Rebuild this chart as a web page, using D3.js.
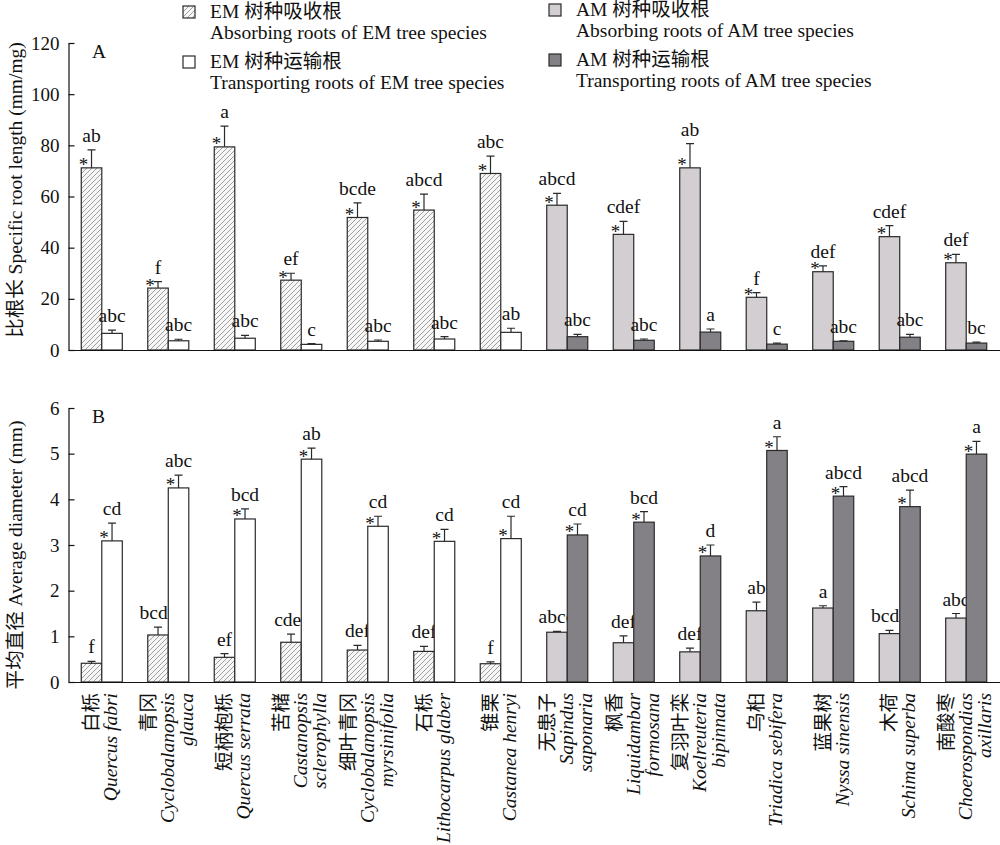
<!DOCTYPE html>
<html>
<head>
<meta charset="utf-8">
<script src="https://cdn.jsdelivr.net/npm/d3@7"></script>
<style>
  body { margin: 0; background: #fff; }
  svg text { font-family: "Liberation Serif", "Times New Roman", "Noto Sans CJK SC", serif; fill: #111; }
</style>
</head>
<body>
<svg id="chart" width="1000" height="845"></svg>
<script>
// species (Chinese name + latin name lines)
const speciesCn = ['白栎', '青冈', '短柄枹栎', '苦槠', '细叶青冈', '石栎', '锥栗',
                   '无患子', '枫香', '复羽叶栾', '乌桕', '蓝果树', '木荷', '南酸枣'];
const speciesLatin = [['Quercus fabri'], ['Cyclobalanopsis', 'glauca'], ['Quercus serrata'],
                      ['Castanopsis', 'sclerophylla'], ['Cyclobalanopsis', 'myrsinifolia'],
                      ['Lithocarpus glaber'], ['Castanea henryi'], ['Sapindus', 'saponaria'],
                      ['Liquidambar', 'formosana'], ['Koelreuteria', 'bipinnata'],
                      ['Triadica sebifera'], ['Nyssa sinensis'], ['Schima superba'],
                      ['Choerospondias', 'axillaris']];
const mycType = ['EM', 'EM', 'EM', 'EM', 'EM', 'EM', 'EM', 'AM', 'AM', 'AM', 'AM', 'AM', 'AM', 'AM'];

// A: specific root length (mm/mg)
const srlAbs    = [71.2, 24.2, 79.4, 27.3, 51.8, 54.7, 69.0, 56.6, 45.2, 71.2, 20.6, 30.6, 44.3, 34.1];
const srlAbsSe  = [7.0, 2.5, 8.1, 2.7, 5.7, 6.2, 6.8, 4.6, 5.1, 9.5, 1.8, 2.3, 4.3, 3.3];
const srlAbsLet = ['ab', 'f', 'a', 'ef', 'bcde', 'abcd', 'abc', 'abcd', 'cdef', 'ab', 'f', 'def', 'cdef', 'def'];
const srlTr     = [6.5, 3.6, 4.6, 2.2, 3.4, 4.3, 6.9, 5.2, 3.8, 7.0, 2.3, 3.4, 5.0, 2.7];
const srlTrSe   = [1.3, 0.6, 1.1, 0.3, 0.5, 0.9, 1.6, 0.9, 0.5, 1.2, 0.4, 0.2, 1.1, 0.4];
const srlTrLet  = ['abc', 'abc', 'abc', 'c', 'abc', 'abc', 'ab', 'abc', 'abc', 'a', 'c', 'abc', 'abc', 'bc'];

// B: average diameter (mm)
const diaAbs    = [0.41, 1.03, 0.54, 0.87, 0.70, 0.67, 0.40, 1.09, 0.86, 0.66, 1.56, 1.62, 1.06, 1.40];
const diaAbsSe  = [0.04, 0.17, 0.08, 0.18, 0.10, 0.11, 0.04, 0.02, 0.15, 0.08, 0.19, 0.05, 0.07, 0.10];
const diaAbsLet = ['f', 'bcde', 'ef', 'cdef', 'def', 'def', 'f', 'abcd', 'def', 'def', 'ab', 'a', 'bcde', 'abc'];
const diaTr     = [3.09, 4.25, 3.57, 4.88, 3.41, 3.08, 3.14, 3.22, 3.50, 2.76, 5.07, 4.07, 3.84, 4.99];
const diaTrSe   = [0.39, 0.28, 0.22, 0.24, 0.22, 0.26, 0.49, 0.24, 0.23, 0.24, 0.30, 0.21, 0.36, 0.28];
const diaTrLet  = ['cd', 'abc', 'bcd', 'ab', 'cd', 'cd', 'cd', 'cd', 'bcd', 'd', 'a', 'abcd', 'abcd', 'a'];

const yTicksA = [0, 20, 40, 60, 80, 100, 120];
const yTicksB = [0, 1, 2, 3, 4, 5, 6];

const svg = d3.select('#chart');

// hatch for EM absorbing roots
const defs = svg.append('defs');
const pat = defs.append('pattern')
    .attr('id', 'hatch').attr('patternUnits', 'userSpaceOnUse')
    .attr('width', 5).attr('height', 5);
pat.append('rect').attr('width', 5).attr('height', 5).attr('fill', '#f6f6f6');
pat.append('path').attr('d', 'M0,5 L5,0 M-1,1 L1,-1 M4,6 L6,4')
    .attr('stroke', '#8a8a8a').attr('stroke-width', 0.8);

const fills = {
    EM: ['url(#hatch)', '#ffffff'],
    AM: ['#d2ced2', '#848186']
};

const idx = d3.range(speciesCn.length);
const x = d3.scaleBand().domain(idx).range([68.5, 999.5])
    .paddingInner(0.383).paddingOuter(0.192);
const xSub = d3.scaleBand().domain([0, 1]).range([0, x.bandwidth()]);

function panel(opts) {
    const y = d3.scaleLinear().domain([0, opts.max]).range([opts.bottom, opts.top]);
    const g = svg.append('g');

    const series = [
        {vals: opts.abs, se: opts.absSe, lets: opts.absLet, k: 0},
        {vals: opts.tr, se: opts.trSe, lets: opts.trLet, k: 1}
    ];

    series.forEach(s => {
        const bars = g.selectAll(null).data(idx).enter().append('g');
        const bx = i => x(i) + xSub(s.k);
        const cx = i => bx(i) + xSub.bandwidth() / 2;
        bars.append('rect')
            .attr('x', bx)
            .attr('y', i => y(s.vals[i]))
            .attr('width', xSub.bandwidth())
            .attr('height', i => y(0) - y(s.vals[i]))
            .attr('fill', i => fills[mycType[i]][s.k])
            .attr('stroke', '#2a2a2a').attr('stroke-width', 1.2);
        bars.append('path')
            .attr('d', i => {
                const c = cx(i), t = y(s.vals[i] + s.se[i]);
                return `M${c},${y(s.vals[i])}V${t}M${c - 4},${t}H${c + 4}`;
            })
            .attr('stroke', '#2a2a2a').attr('stroke-width', 1.2).attr('fill', 'none');
        bars.append('text')
            .attr('x', cx)
            .attr('y', i => y(s.vals[i] + s.se[i]) - 8)
            .attr('text-anchor', 'middle')
            .attr('font-size', 19.5)
            .text(i => s.lets[i]);
        if (s.k === opts.starSeries) {
            bars.append('text')
                .attr('x', i => cx(i) - 8)
                .attr('y', i => y(s.vals[i]) + 3.5)
                .attr('text-anchor', 'middle')
                .attr('font-size', 19)
                .text('*');
        }
    });

    const ay = g.append('g').attr('transform', 'translate(68.5,0)')
        .call(d3.axisLeft(y).tickValues(opts.ticks).tickFormat(d3.format('d'))
            .tickSize(-6).tickSizeOuter(0).tickPadding(9));
    ay.selectAll('text').attr('font-size', 19).attr('font-family', '"Liberation Serif", serif').attr('fill', '#111');
    ay.selectAll('line, path').attr('stroke', '#111').attr('stroke-width', 1.2);

    const ax = g.append('g').attr('transform', `translate(0,${opts.bottom})`)
        .call(d3.axisBottom(x).tickValues([]).tickSizeOuter(0));
    ax.select('path').attr('stroke', '#111').attr('stroke-width', 1.2);

    g.append('text').attr('x', 92).attr('y', opts.top + 15)
        .attr('font-size', 19.5).text(opts.letter);

    g.append('text')
        .attr('transform', `translate(22,${opts.titleY}) rotate(-90)`)
        .attr('text-anchor', 'middle').attr('font-size', 19.5)
        .text(opts.title);
}

panel({
    top: 43, bottom: 350, max: 120, ticks: yTicksA, letter: 'A',
    abs: srlAbs, absSe: srlAbsSe, absLet: srlAbsLet,
    tr: srlTr, trSe: srlTrSe, trLet: srlTrLet, starSeries: 0,
    title: '比根长 Specific root length (mm/mg)', titleY: 190
});

panel({
    top: 408, bottom: 682, max: 6, ticks: yTicksB, letter: 'B',
    abs: diaAbs, absSe: diaAbsSe, absLet: diaAbsLet,
    tr: diaTr, trSe: diaTrSe, trLet: diaTrLet, starSeries: 1,
    title: '平均直径 Average diameter (mm)', titleY: 555
});

// species labels under panel B
idx.forEach(i => {
    const lines = [{t: speciesCn[i], it: false}].concat(speciesLatin[i].map(t => ({t, it: true})));
    const c = x(i) + x.bandwidth() / 2;
    const n = lines.length;
    lines.forEach((ln, j) => {
        const bx = c + (j - (n - 1) / 2) * 19 + 6;
        svg.append('text')
            .attr('transform', `translate(${bx},693) rotate(-90)`)
            .attr('text-anchor', 'end')
            .attr('font-size', 19.5)
            .attr('font-style', ln.it ? 'italic' : 'normal')
            .text(ln.t);
    });
});

// legend
const legend = [
    {x: 183, y: 18, fill: fills.EM[0], cn: 'EM 树种吸收根', en: 'Absorbing roots of EM tree species'},
    {x: 183, y: 68, fill: fills.EM[1], cn: 'EM 树种运输根', en: 'Transporting roots of EM tree species'},
    {x: 549, y: 16, fill: fills.AM[0], cn: 'AM 树种吸收根', en: 'Absorbing roots of AM tree species'},
    {x: 549, y: 66, fill: fills.AM[1], cn: 'AM 树种运输根', en: 'Transporting roots of AM tree species'}
];
const lg = svg.append('g').selectAll(null).data(legend).enter().append('g');
lg.append('rect')
    .attr('x', d => d.x).attr('y', d => d.y - 12)
    .attr('width', 12).attr('height', 12)
    .attr('fill', d => d.fill).attr('stroke', '#2a2a2a').attr('stroke-width', 1.2);
lg.append('text').attr('x', d => d.x + 27).attr('y', d => d.y)
    .attr('font-size', 19.5).text(d => d.cn);
lg.append('text').attr('x', d => d.x + 27).attr('y', d => d.y + 21)
    .attr('font-size', 19.5).text(d => d.en);
</script>
</body>
</html>
